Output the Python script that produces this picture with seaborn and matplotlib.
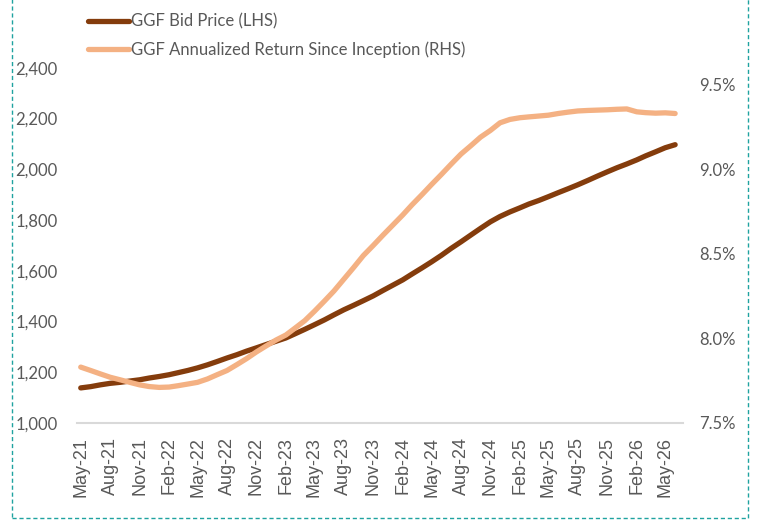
import matplotlib
matplotlib.use("Agg")
import matplotlib.pyplot as plt
import matplotlib.dates as mdates
from matplotlib.patches import Rectangle
from matplotlib.ticker import FuncFormatter
import pandas as pd
import seaborn as sns

# monthly points, May-21 .. Jun-26
start_month = "2021-05-01"
n_months = 62

bid_price = [
    1138, 1143, 1150, 1156, 1160, 1165, 1170, 1177,
    1183, 1190, 1198, 1207, 1217, 1229, 1242, 1256, 1269, 1283, 1296, 1309,
    1322, 1335, 1351, 1369, 1387, 1406, 1426, 1446, 1464, 1482, 1501, 1522,
    1543, 1564, 1587, 1611, 1635, 1661, 1688, 1714, 1741, 1767, 1793, 1814,
    1832, 1848, 1863, 1877, 1892, 1908, 1923, 1939, 1956, 1973, 1990, 2006,
    2021, 2037, 2053, 2069, 2085, 2097,
]

annual_return = [
    7.83, 7.81, 7.79, 7.77, 7.755, 7.74, 7.725, 7.715,
    7.71, 7.712, 7.72, 7.73, 7.74, 7.76, 7.785, 7.81, 7.845, 7.88, 7.92, 7.955,
    7.99, 8.02, 8.06, 8.105, 8.16, 8.22, 8.28, 8.35, 8.42, 8.49, 8.55, 8.61,
    8.67, 8.73, 8.79, 8.85, 8.91, 8.97, 9.03, 9.09, 9.14, 9.19, 9.23, 9.275,
    9.295, 9.305, 9.31, 9.315, 9.32, 9.33, 9.338, 9.345, 9.348, 9.35, 9.352, 9.355,
    9.357, 9.34, 9.335, 9.332, 9.334, 9.33,
]

left_ticks = [1000, 1200, 1400, 1600, 1800, 2000, 2200, 2400]
right_ticks = [7.5, 8.0, 8.5, 9.0, 9.5]

df = pd.DataFrame({
    "date": pd.date_range(start_month, periods=n_months, freq="MS"),
    "bid": bid_price,
    "ret": annual_return,
})

sns.set_style("white")
plt.rcParams["font.family"] = ["Lato", "DejaVu Sans"]
text_grey = "#595959"
brown = "#843C0C"
peach = "#F4B183"

fig = plt.figure(figsize=(7.57, 5.26), dpi=100)
ax = fig.add_axes([0.102, 0.196, 0.800, 0.675])
ax2 = ax.twinx()

sns.lineplot(data=df, x="date", y="bid", ax=ax, color=brown, linewidth=3.8,
             label="GGF Bid Price (LHS)", legend=False)
sns.lineplot(data=df, x="date", y="ret", ax=ax2, color=peach, linewidth=3.8,
             label="GGF Annualized Return Since Inception (RHS)", legend=False)

ax.set_ylim(1000, 2400)
ax2.set_ylim(7.5, 9.6)
ax.set_xlim(pd.Timestamp("2021-04-20"), pd.Timestamp("2026-06-25"))

ax.set_yticks(left_ticks)
ax.yaxis.set_major_formatter(FuncFormatter(lambda v, p: f"{v:,.0f}"))
ax2.set_yticks(right_ticks)
ax2.yaxis.set_major_formatter(FuncFormatter(lambda v, p: f"{v:.1f}%"))

quarter_ticks = pd.date_range("2021-05-01", "2026-05-01", freq="3MS")
ax.set_xticks(quarter_ticks)
ax.xaxis.set_major_formatter(mdates.DateFormatter("%b-%y"))

ax.set_xlabel("")
ax.set_ylabel("")
ax2.set_ylabel("")

for a in (ax, ax2):
    for side in ("top", "left", "right", "bottom"):
        a.spines[side].set_visible(False)
ax.spines["bottom"].set_visible(True)
ax.spines["bottom"].set_color("#D9D9D9")
ax.spines["bottom"].set_linewidth(1.5)

ax.tick_params(axis="x", which="major", direction="out", length=6, width=1.2,
               color="#D9D9D9", labelcolor=text_grey, labelsize=13,
               labelrotation=90, pad=4, labelfontfamily="Liberation Sans")
ax.tick_params(axis="y", length=0, labelcolor=text_grey, labelsize=12, pad=14)
ax2.tick_params(axis="y", length=0, labelcolor=text_grey, labelsize=12, pad=12)

handles = ax.get_lines()[:1] + ax2.get_lines()[:1]
labels = ["GGF Bid Price (LHS)", "GGF Annualized Return Since Inception (RHS)"]
fig.legend(handles, labels, loc="upper left", bbox_to_anchor=(0.098, 1.0),
           frameon=False, fontsize=12, labelcolor=text_grey, handlelength=2.5,
           handletextpad=0.1, labelspacing=0.7, borderaxespad=0.4)

fig.patches.append(Rectangle((0.016, 0.015), 0.972, 1.0, transform=fig.transFigure,
                             fill=False, edgecolor="#1FA3A0", linewidth=1.0,
                             linestyle=(0, (3, 2)), zorder=0))

fig.savefig("out.png", dpi=100)
